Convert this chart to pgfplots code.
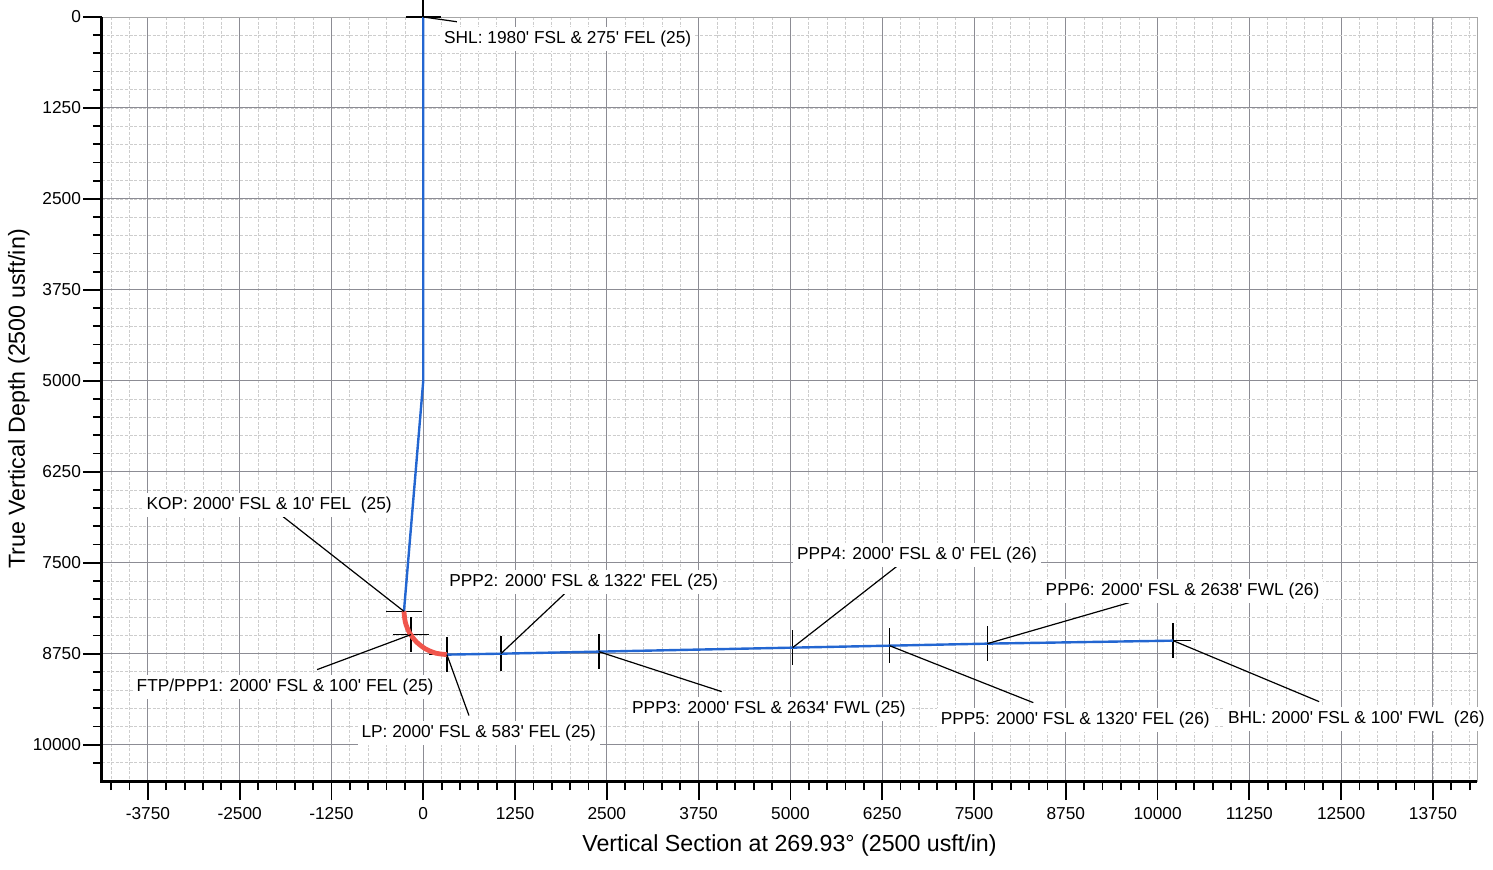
\documentclass[border=0pt]{standalone}
\usepackage{fontspec}
\setmainfont{Liberation Sans}
\usepackage{pgfplots}
\pgfplotsset{compat=1.18}
\definecolor{trajblue}{HTML}{2366D1}
\definecolor{trajred}{HTML}{F0554C}
\definecolor{majgrid}{HTML}{8C8C94}
\definecolor{mingrid}{HTML}{CDCDCD}
\newcommand{\lbl}{\fontsize{8.65}{10}\selectfont}
\newcommand{\ap}{\textquotesingle}
\begin{document}
\begin{tikzpicture}
\begin{axis}[
  scale only axis, width=687.5pt, height=382pt,
  xmin=-4375, xmax=14350, ymin=0, ymax=10500, y dir=reverse,
  clip=false, clip marker paths=true,
  xtick={-3750,-2500,...,13750},
  ytick={0,1250,...,10000},
  minor xtick={-4250,-4000,...,14250},
  minor ytick={250,500,...,10250},
  grid=both,
  major grid style={majgrid, line width=0.5pt},
  minor grid style={mingrid, line width=0.4pt, dash pattern=on 1.5pt off 0.8pt},
  axis line style={black!35, line width=0.5pt},
  tick align=outside,
  xtick pos=left, ytick pos=left,
  major tick length=9.5pt, minor tick length=4.5pt,
  tick style={black, line width=0.9pt},
  scaled ticks=false,
  /pgf/number format/assume math mode=true,
  /pgf/number format/1000 sep={},
  ticklabel style={font=\lbl},
  yticklabel style={xshift=2.5pt},
  xlabel={Vertical Section at 269.93° (2500 usft/in)},
  ylabel={True Vertical Depth (2500 usft/in)},
  xlabel style={at={(axis description cs:0.5,-0.0838)}, anchor=center, font=\fontsize{11.6}{14}\selectfont},
  ylabel style={at={(axis description cs:-0.0605,0.5)}, anchor=center, font=\fontsize{11.6}{14}\selectfont},
]
% station markers (drawn beneath the well path)
\addplot[only marks, mark=+, mark size=8.8pt, mark options={black, line width=0.8pt}]
  coordinates {(0,0) (-167,8488) (322,8763) (1057,8750) (2390,8722) (5030,8667) (6349,8640) (7682,8612) (10212,8571)};
\addplot[only marks, mark=-, mark size=9pt, mark options={black, line width=0.8pt}]
  coordinates {(-263,8168)};
% well path
\addplot[trajblue, line width=1.2pt] coordinates {(0,0) (0,5000) (-263,8168)};
\addplot[trajred, line width=2.4pt, smooth] coordinates {(-263,8168) (-243,8322) (-185,8466) (-92,8589) (29,8683) (171,8743) (322,8763)};
\addplot[trajblue, line width=1.2pt] coordinates {(322,8763) (1057,8750) (2390,8722) (5030,8667) (6349,8640) (7682,8612) (10212,8571)};
% leader lines
\draw[black, line width=0.6pt] (axis cs:0,0) -- (axis cs:458,65);
\draw[black, line width=0.6pt] (axis cs:-263,8168) -- (axis cs:-1909,6867);
\draw[black, line width=0.6pt] (axis cs:-167,8488) -- (axis cs:-1446,8969);
\draw[black, line width=0.6pt] (axis cs:322,8763) -- (axis cs:622,9599);
\draw[black, line width=0.6pt] (axis cs:1057,8750) -- (axis cs:1941,7911);
\draw[black, line width=0.6pt] (axis cs:2390,8722) -- (axis cs:4064,9271);
\draw[black, line width=0.6pt] (axis cs:5030,8667) -- (axis cs:6444,7554);
\draw[black, line width=0.6pt] (axis cs:6349,8640) -- (axis cs:8308,9423);
\draw[black, line width=0.6pt] (axis cs:7682,8612) -- (axis cs:9614,8048);
\draw[black, line width=0.6pt] (axis cs:10212,8571) -- (axis cs:12200,9409);
% labels
\tikzset{lab/.style={anchor=west, fill=white, inner sep=2pt, font=\lbl}}
\node[lab] at (axis cs:225,300) {SHL: 1980\ap{} FSL \& 275\ap{} FEL (25)};
\node[lab] at (axis cs:-3827,6710) {KOP: 2000\ap{} FSL \& 10\ap{} FEL\ \ (25)};
\node[lab] at (axis cs:295,7768) {PPP2: 2000\ap{} FSL \& 1322\ap{} FEL (25)};
\node[lab] at (axis cs:-3962,9210) {FTP/PPP1: 2000\ap{} FSL \& 100\ap{} FEL (25)};
\node[lab] at (axis cs:-901,9843) {LP: 2000\ap{} FSL \& 583\ap{} FEL (25)};
\node[lab] at (axis cs:2785,9513) {PPP3: 2000\ap{} FSL \& 2634\ap{} FWL (25)};
\node[lab] at (axis cs:5030,7396) {PPP4: 2000\ap{} FSL \& 0\ap{} FEL (26)};
\node[lab] at (axis cs:6989,9664) {PPP5: 2000\ap{} FSL \& 1320\ap{} FEL (26)};
\node[lab] at (axis cs:8417,7891) {PPP6: 2000\ap{} FSL \& 2638\ap{} FWL (26)};
\node[lab] at (axis cs:10900,9650) {BHL: 2000\ap{} FSL \& 100\ap{} FWL\ \ (26)};
% heavy left and bottom axis lines
\draw[black, line width=1.5pt] (axis cs:-4375,0) -- (axis cs:-4375,10500) -- (axis cs:14350,10500);
\end{axis}
\pgfresetboundingbox
\path[use as bounding box] (-51pt,-44pt) rectangle (695.5pt,390.5pt);
\end{tikzpicture}
\end{document}
